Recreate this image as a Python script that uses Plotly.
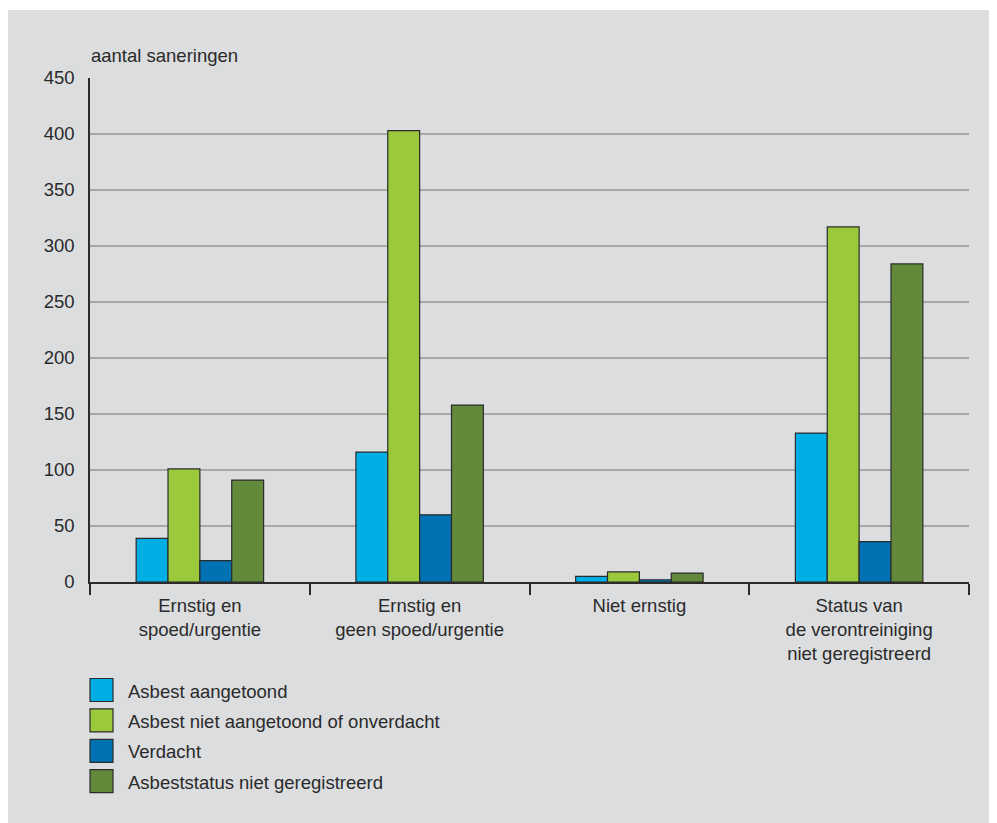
import plotly.graph_objects as go

# categorieën en reeksen
categories = ["Ernstig en<br>spoed/urgentie", "Ernstig en<br>geen spoed/urgentie",
              "Niet ernstig", "Status van<br>de verontreiniging<br>niet geregistreerd"]
series_names = ["Asbest aangetoond", "Asbest niet aangetoond of onverdacht",
                "Verdacht", "Asbeststatus niet geregistreerd"]
asbest_aangetoond = [39, 116, 5, 133]
niet_aangetoond = [101, 403, 9, 317]
verdacht = [19, 60, 2, 36]
niet_geregistreerd = [91, 158, 8, 284]
y_ticks = [0, 50, 100, 150, 200, 250, 300, 350, 400, 450]

colors = ["#00aee6", "#9bc93b", "#0071b2", "#638a3b"]
values = [asbest_aangetoond, niet_aangetoond, verdacht, niet_geregistreerd]

FONT = "Arial, 'Liberation Sans', sans-serif"
FS = 18.5
TXT = "#2a2a2a"
BG = "#dcdddf"

# pagina heeft 8px body-marge; coördinaten hieronder zijn paginapixels
OFF = 8
L, R, T, B = 90, 969, 78, 582
W, H = R - L, B - T


def px(x):
    return (x - L) / W


def py(y):
    return (B - y) / H


fig = go.Figure()
for name, vals, col in zip(series_names, values, colors):
    fig.add_trace(go.Bar(
        x=categories, y=vals, name=name,
        marker=dict(color=col, line=dict(color="#2b2b2b", width=1.2)),
        showlegend=False,
    ))

shapes = [dict(type="rect", xref="paper", yref="paper", layer="below",
               x0=px(7), x1=px(1100), y0=py(1000), y1=py(10),
               fillcolor=BG, line=dict(width=0))]
annotations = [dict(text="aantal saneringen", xref="paper", yref="paper",
                    x=px(89), y=py(56), xanchor="left", yanchor="middle",
                    showarrow=False, font=dict(family=FONT, size=FS, color=TXT))]

# handmatige legenda
for i, (name, col) in enumerate(zip(series_names, colors)):
    cy = 690 + i * 30.4
    shapes.append(dict(type="rect", xref="paper", yref="paper",
                       x0=px(90), x1=px(113), y0=py(cy + 11.5), y1=py(cy - 11.5),
                       fillcolor=col, line=dict(color="#2b2b2b", width=1.2)))
    annotations.append(dict(text=name, xref="paper", yref="paper",
                            x=px(126), y=py(cy + 1), xanchor="left", yanchor="middle",
                            showarrow=False, font=dict(family=FONT, size=FS, color=TXT)))

fig.update_layout(
    width=997 - OFF, height=823 - OFF,
    margin=dict(l=L - OFF, r=997 - R, t=T - OFF, b=823 - B),
    paper_bgcolor="white", plot_bgcolor="white",
    barmode="group", bargap=0.42, bargroupgap=0,
    font=dict(family=FONT, size=FS, color=TXT),
    shapes=shapes, annotations=annotations,
    xaxis=dict(
        type="category", tickson="boundaries", ticks="outside", ticklen=11,
        tickwidth=1.5, tickcolor="#2b2b2b", showline=True, linecolor="#2b2b2b",
        linewidth=1.5, showgrid=False, ticklabelstandoff=6,
        tickfont=dict(size=FS, color=TXT),
    ),
    yaxis=dict(
        range=[0, 450], tickvals=y_ticks, showline=True, linecolor="#2b2b2b",
        linewidth=1.5, gridcolor="#a8a8a8", gridwidth=1.5, zeroline=False,
        ticks="", ticklabelstandoff=10, tickfont=dict(size=FS, color=TXT),
    ),
)

fig.write_html("out.html")
